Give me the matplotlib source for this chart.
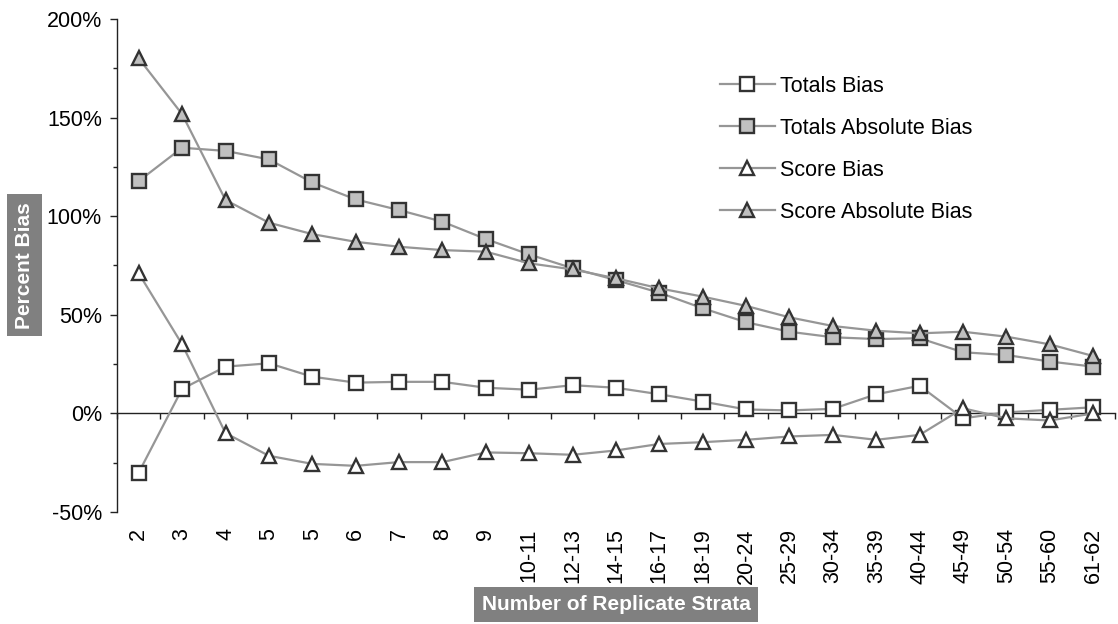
import matplotlib
matplotlib.use("Agg")
import matplotlib.pyplot as plt
from matplotlib.ticker import MultipleLocator, FixedLocator, NullFormatter, FuncFormatter
import matplotlib.transforms as mtransforms

plt.rcParams['font.family'] = ['Liberation Sans', 'DejaVu Sans']

strata = ["2", "3", "4", "5", "5", "6", "7", "8", "9", "10-11", "12-13", "14-15",
          "16-17", "18-19", "20-24", "25-29", "30-34", "35-39", "40-44", "45-49",
          "50-54", "55-60", "61-62"]

totals_bias = [-30, 12.4, 23.7, 25.4, 18.6, 15.6, 16, 16, 13, 12, 14.3, 13,
               9.7, 6, 2, 1.5, 2.3, 9.7, 14, -2.5, 0.5, 1.8, 3.1]
totals_abs_bias = [117.8, 134.7, 133.1, 128.8, 117.1, 108.5, 103.1, 97.2, 88.4, 80.6,
                   73.6, 67.6, 61.2, 53.3, 46.2, 41.4, 38.6, 37.7, 38.1, 31, 29.6, 26.3, 23.7]
score_bias = [71, 35, -10, -21.5, -25.6, -26.6, -24.7, -24.7, -19.8, -20.2, -21,
              -18.8, -15.5, -14.6, -13.4, -11.7, -10.9, -13.4, -10.9, 2.6, -2.5, -3.6, 0]
score_abs_bias = [180, 151.7, 108.2, 96.7, 90.9, 87, 84.5, 82.8, 82, 76.1, 73, 68.5,
                  63.4, 59.2, 54.5, 48.7, 44.3, 41.9, 40.6, 41.4, 38.9, 35, 29.1]

series = [
    ("Totals Bias", totals_bias, "s", "white"),
    ("Totals Absolute Bias", totals_abs_bias, "s", "#c0c0c0"),
    ("Score Bias", score_bias, "^", "white"),
    ("Score Absolute Bias", score_abs_bias, "^", "#c0c0c0"),
]

FS = 15.5

fig = plt.figure(figsize=(11.18, 6.24), dpi=100)
ax = fig.add_axes([0.1047, 0.1795, 0.8925, 0.7901])

x = list(range(len(strata)))
handles = []
for name, vals, mk, fc in series:
    h, = ax.plot(x, vals, color="#969696", lw=1.6, marker=mk, ms=9.5,
                 mfc=fc, mec="#333333", mew=1.7, label=name, zorder=3)
    handles.append(h)

ax.set_xlim(-0.5, len(strata) - 0.5)
ax.set_ylim(-50, 200)

# spines
for s in ("top", "right"):
    ax.spines[s].set_visible(False)
ax.spines["bottom"].set_position(("data", 0))
ax.spines["left"].set_color("#222222")
ax.spines["bottom"].set_color("#222222")
ax.spines["left"].set_linewidth(1.0)
ax.spines["bottom"].set_linewidth(1.0)

# y ticks
ax.yaxis.set_major_locator(MultipleLocator(50))
ax.yaxis.set_minor_locator(MultipleLocator(25))
ax.yaxis.set_major_formatter(FuncFormatter(lambda v, p: f"{v:.0f}%"))
ax.tick_params(axis="y", which="major", length=5, width=1.0, pad=6,
               labelsize=FS, colors="#222222", labelcolor="black")
ax.tick_params(axis="y", which="minor", length=3, width=1.0, colors="#222222")

# x ticks at category boundaries, labels placed below the plot area
ax.xaxis.set_major_locator(FixedLocator([i - 0.5 for i in range(len(strata) + 1)]))
ax.xaxis.set_major_formatter(NullFormatter())
ax.tick_params(axis="x", which="major", direction="out", length=4.5, width=1.0,
               colors="#222222")
trans = mtransforms.blended_transform_factory(ax.transData, ax.transAxes)
for i, lab in enumerate(strata):
    ax.text(i, -0.033, lab, transform=trans, rotation=90, ha="center", va="top",
            fontsize=FS, color="black")

# axis titles in grey boxes
fig.text(0.0219, 0.575, "Percent Bias", rotation=90, ha="center", va="center",
         fontsize=15, fontweight="bold", color="white",
         bbox=dict(boxstyle="square,pad=0.37", fc="#808080", ec="none"))
fig.text(0.551, 0.031, "Number of Replicate Strata", ha="center", va="center",
         fontsize=15, fontweight="bold", color="white",
         bbox=dict(boxstyle="square,pad=0.37", fc="#808080", ec="none"))

leg = ax.legend(handles=handles, loc="upper left", bbox_to_anchor=(0.604, 0.885),
                frameon=False, fontsize=FS, handlelength=2.55, handletextpad=0.25,
                labelspacing=0.98, borderaxespad=0, borderpad=0)

fig.savefig("out.png", dpi=100, facecolor="white")
